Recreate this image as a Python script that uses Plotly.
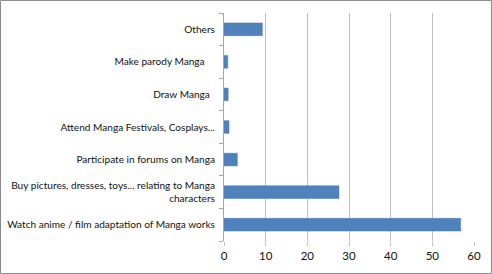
import plotly.graph_objects as go

categories = [
    "Watch anime / film adaptation of Manga works",
    "Buy pictures, dresses, toys... relating to Manga<br>characters",
    "Participate in forums on Manga",
    "Attend Manga Festivals, Cosplays...",
    "Draw Manga\u00a0\u00a0",
    "Make parody Manga\u00a0\u00a0\u00a0\u00a0",
    "Others",
]
values = [56.8, 27.6, 3.2, 1.2, 1.0, 0.9, 9.2]
x_ticks = [0, 10, 20, 30, 40, 50, 60]

fig = go.Figure(go.Bar(
    y=categories, x=values, orientation="h",
    marker=dict(color="#4f81bd", line=dict(color="#4a7ab5", width=0.5)),
))
fig.update_layout(
    width=492, height=274,
    margin=dict(l=224, r=18, t=13, b=33, autoexpand=False),
    paper_bgcolor="white", plot_bgcolor="white",
    bargap=0.61,
    showlegend=False,
    font=dict(family="Lato, Open Sans, sans-serif", size=10.1, color="#111111"),
    shapes=[dict(type="rect", xref="paper", yref="paper", x0=-223.5/250, x1=1+17.5/250,
                 y0=-32.5/228, y1=1+12.5/228, line=dict(color="#8c8c8c", width=1))],
)
fig.update_xaxes(
    range=[0, 60], tickvals=x_ticks, showgrid=True, gridcolor="#bfbfbf", gridwidth=1,
    zeroline=False, showline=False, ticks="outside", ticklen=4, tickcolor="#bfbfbf",
    tickfont=dict(size=11.5), automargin=False,
)
fig.update_yaxes(
    showline=True, linecolor="#a6a6a6", ticks="outside", ticklen=4, tickcolor="#a6a6a6",
    tickson="boundaries", showgrid=False, tickfont=dict(size=10.1), automargin=False,
    ticklabelstandoff=6,
)
fig.write_html("out.html")
